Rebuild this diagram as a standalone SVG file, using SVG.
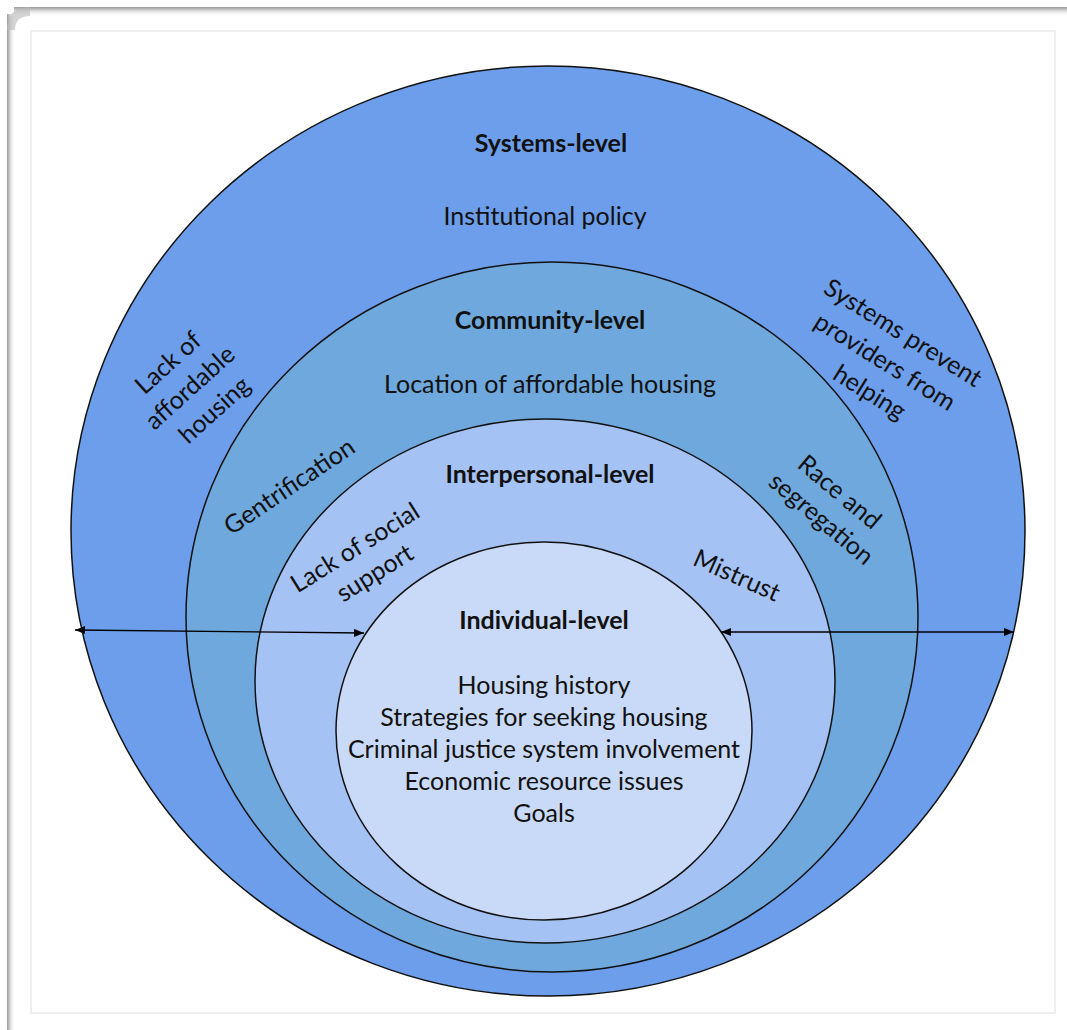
<svg xmlns="http://www.w3.org/2000/svg" width="1067" height="1030" viewBox="0 0 1067 1030">
  <defs>
    <linearGradient id="shadeTop" x1="0" y1="0" x2="0" y2="1">
      <stop offset="0" stop-color="#9a9a9a"/>
      <stop offset="0.35" stop-color="#cfcfcf"/>
      <stop offset="1" stop-color="#ffffff" stop-opacity="0"/>
    </linearGradient>
    <linearGradient id="shadeLeft" x1="0" y1="0" x2="1" y2="0">
      <stop offset="0" stop-color="#9a9a9a"/>
      <stop offset="0.35" stop-color="#cfcfcf"/>
      <stop offset="1" stop-color="#ffffff" stop-opacity="0"/>
    </linearGradient>
    <marker id="arrowHead" viewBox="0 0 10 8" refX="10" refY="4" markerWidth="10" markerHeight="8" markerUnits="userSpaceOnUse" orient="auto-start-reverse">
      <path d="M0,0 L10,4 L0,8 Z" fill="#000"/>
    </marker>
    <style>
      .ring { stroke: #111; stroke-width: 1.5; }
      .head { font-family: Lato, "Liberation Sans", sans-serif; font-weight: bold; font-size: 25px; fill: #111; text-anchor: middle; }
      .lbl { font-family: Lato, "Liberation Sans", sans-serif; font-size: 25px; fill: #111; text-anchor: middle; }
      .conn { stroke: #000; stroke-width: 1.3; fill: none; }
    </style>
  </defs>

  <!-- page background and card frame -->
  <rect x="0" y="0" width="1067" height="1030" fill="#ffffff"/>
  <rect x="14" y="7" width="1053" height="9" fill="url(#shadeTop)"/>
  <rect x="7" y="14" width="8" height="1016" fill="url(#shadeLeft)"/>
  <path d="M7,30 Q7,7 30,7 L30,16 Q15,16 15,30 Z" fill="#b8b8b8" opacity="0.6"/>
  <rect x="31" y="31" width="1024" height="982" fill="#ffffff" stroke="#efefef" stroke-width="2"/>

  <!-- outermost ring: systems -->
  <g id="systems-level">
    <ellipse class="ring" cx="548" cy="531" rx="477" ry="465" fill="#6d9eeb"/>
    <text class="head" x="551" y="152">Systems-level</text>
    <text class="lbl" x="545" y="225">Institutional policy</text>
    <text class="lbl" transform="translate(192,385) rotate(-42)">
      <tspan x="0" y="-24">Lack of</tspan>
      <tspan x="0" y="9">affordable</tspan>
      <tspan x="0" y="42">housing</tspan>
    </text>
    <text class="lbl" transform="translate(888,363) rotate(32)">
      <tspan x="0" y="-25">Systems prevent</tspan>
      <tspan x="0" y="9">providers from</tspan>
      <tspan x="0" y="43">helping</tspan>
    </text>
  </g>

  <!-- community ring -->
  <g id="community-level">
    <ellipse class="ring" cx="552" cy="617" rx="366" ry="355" fill="#6fa8dc"/>
    <text class="head" x="550" y="329">Community-level</text>
    <text class="lbl" x="550" y="393">Location of affordable housing</text>
    <text class="lbl" transform="translate(289,486) rotate(-34)"><tspan x="0" y="9">Gentrification</tspan></text>
    <text class="lbl" transform="translate(832,506) rotate(40)">
      <tspan x="0" y="-7">Race and</tspan>
      <tspan x="0" y="25">segregation</tspan>
    </text>
  </g>

  <!-- interpersonal ring -->
  <g id="interpersonal-level">
    <ellipse class="ring" cx="545" cy="681" rx="290" ry="262" fill="#a4c2f4"/>
    <text class="head" x="550" y="483">Interpersonal-level</text>
    <text class="lbl" transform="translate(366,559) rotate(-32)">
      <tspan x="0" y="-7">Lack of social</tspan>
      <tspan x="0" y="25">support</tspan>
    </text>
    <text class="lbl" transform="translate(737,575) rotate(24)"><tspan x="0" y="9">Mistrust</tspan></text>
  </g>

  <!-- innermost circle: individual -->
  <g id="individual-level">
    <ellipse class="ring" cx="544" cy="731" rx="208" ry="189" fill="#c9daf8"/>
    <text class="head" x="544" y="629">Individual-level</text>
    <text class="lbl" x="544" y="694">Housing history</text>
    <text class="lbl" x="544" y="726">Strategies for seeking housing</text>
    <text class="lbl" x="544" y="758">Criminal justice system involvement</text>
    <text class="lbl" x="544" y="790">Economic resource issues</text>
    <text class="lbl" x="544" y="822">Goals</text>
  </g>

  <!-- span arrows across the rings -->
  <g id="connectors">
    <line class="conn" x1="75" y1="630" x2="364" y2="633" marker-start="url(#arrowHead)" marker-end="url(#arrowHead)"/>
    <line class="conn" x1="721" y1="632" x2="1014" y2="632" marker-start="url(#arrowHead)" marker-end="url(#arrowHead)"/>
  </g>
</svg>
